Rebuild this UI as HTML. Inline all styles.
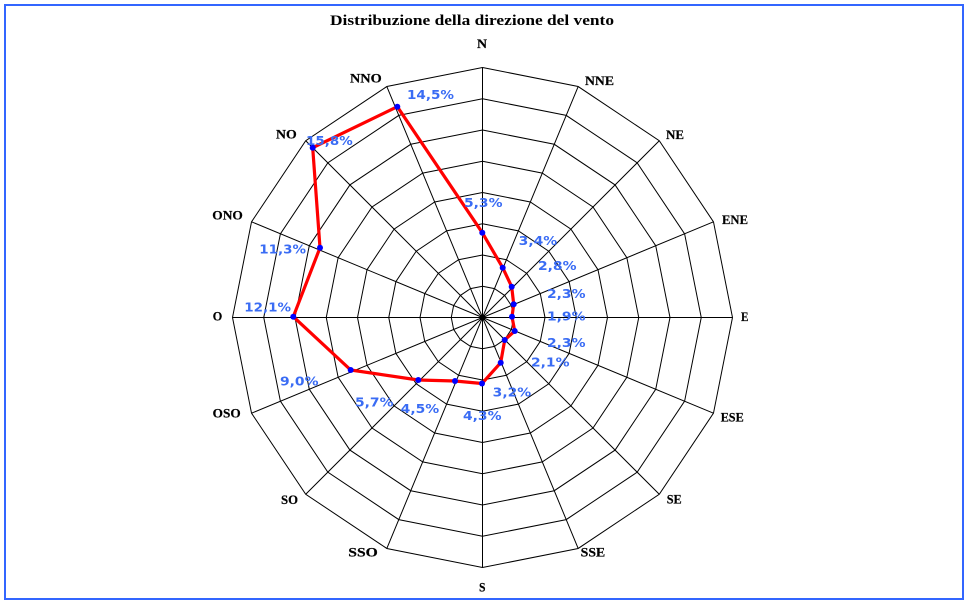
<!DOCTYPE html>
<html>
<head>
<meta charset="utf-8">
<style>
html,body{margin:0;padding:0;background:#fff;}
svg{display:block;}
.dir{font-family:"Liberation Serif","DejaVu Serif",serif;font-weight:bold;font-size:13px;fill:#000;stroke:#000;stroke-width:0.2px;}
.val{font-family:"DejaVu Sans","Liberation Sans",sans-serif;font-weight:bold;font-size:12px;fill:#3a6cf4;}
.title{font-family:"Liberation Serif","DejaVu Serif",serif;font-weight:bold;font-size:15px;fill:#000;}
</style>
</head>
<body>
<svg width="970" height="604" viewBox="0 0 970 604" xmlns="http://www.w3.org/2000/svg">
<rect x="0" y="0" width="970" height="604" fill="#fff"/>
<rect x="5" y="5" width="958" height="594" fill="none" stroke="#3366ff" stroke-width="2"/>

<text class="title" x="330" y="25" textLength="284" lengthAdjust="spacingAndGlyphs">Distribuzione della direzione del vento</text>

<g transform="translate(482.5,317.5)" fill="none" stroke="#000" stroke-width="1">
  <g id="rings">
    <polygon vector-effect="non-scaling-stroke" transform="scale(31.25)" points="0,-1 0.382683,-0.92388 0.707107,-0.707107 0.92388,-0.382683 1,0 0.92388,0.382683 0.707107,0.707107 0.382683,0.92388 0,1 -0.382683,0.92388 -0.707107,0.707107 -0.92388,0.382683 -1,0 -0.92388,-0.382683 -0.707107,-0.707107 -0.382683,-0.92388"/>
    <polygon vector-effect="non-scaling-stroke" transform="scale(62.5)" points="0,-1 0.382683,-0.92388 0.707107,-0.707107 0.92388,-0.382683 1,0 0.92388,0.382683 0.707107,0.707107 0.382683,0.92388 0,1 -0.382683,0.92388 -0.707107,0.707107 -0.92388,0.382683 -1,0 -0.92388,-0.382683 -0.707107,-0.707107 -0.382683,-0.92388"/>
    <polygon vector-effect="non-scaling-stroke" transform="scale(93.75)" points="0,-1 0.382683,-0.92388 0.707107,-0.707107 0.92388,-0.382683 1,0 0.92388,0.382683 0.707107,0.707107 0.382683,0.92388 0,1 -0.382683,0.92388 -0.707107,0.707107 -0.92388,0.382683 -1,0 -0.92388,-0.382683 -0.707107,-0.707107 -0.382683,-0.92388"/>
    <polygon vector-effect="non-scaling-stroke" transform="scale(125)" points="0,-1 0.382683,-0.92388 0.707107,-0.707107 0.92388,-0.382683 1,0 0.92388,0.382683 0.707107,0.707107 0.382683,0.92388 0,1 -0.382683,0.92388 -0.707107,0.707107 -0.92388,0.382683 -1,0 -0.92388,-0.382683 -0.707107,-0.707107 -0.382683,-0.92388"/>
    <polygon vector-effect="non-scaling-stroke" transform="scale(156.25)" points="0,-1 0.382683,-0.92388 0.707107,-0.707107 0.92388,-0.382683 1,0 0.92388,0.382683 0.707107,0.707107 0.382683,0.92388 0,1 -0.382683,0.92388 -0.707107,0.707107 -0.92388,0.382683 -1,0 -0.92388,-0.382683 -0.707107,-0.707107 -0.382683,-0.92388"/>
    <polygon vector-effect="non-scaling-stroke" transform="scale(187.5)" points="0,-1 0.382683,-0.92388 0.707107,-0.707107 0.92388,-0.382683 1,0 0.92388,0.382683 0.707107,0.707107 0.382683,0.92388 0,1 -0.382683,0.92388 -0.707107,0.707107 -0.92388,0.382683 -1,0 -0.92388,-0.382683 -0.707107,-0.707107 -0.382683,-0.92388"/>
    <polygon vector-effect="non-scaling-stroke" transform="scale(218.75)" points="0,-1 0.382683,-0.92388 0.707107,-0.707107 0.92388,-0.382683 1,0 0.92388,0.382683 0.707107,0.707107 0.382683,0.92388 0,1 -0.382683,0.92388 -0.707107,0.707107 -0.92388,0.382683 -1,0 -0.92388,-0.382683 -0.707107,-0.707107 -0.382683,-0.92388"/>
    <polygon vector-effect="non-scaling-stroke" transform="scale(250)" points="0,-1 0.382683,-0.92388 0.707107,-0.707107 0.92388,-0.382683 1,0 0.92388,0.382683 0.707107,0.707107 0.382683,0.92388 0,1 -0.382683,0.92388 -0.707107,0.707107 -0.92388,0.382683 -1,0 -0.92388,-0.382683 -0.707107,-0.707107 -0.382683,-0.92388"/>
  </g>
  <path d="M0,-250L0,250 M95.67,-230.97L-95.67,230.97 M176.78,-176.78L-176.78,176.78 M230.97,-95.67L-230.97,95.67 M-250,0L250,0 M230.97,95.67L-230.97,-95.67 M176.78,176.78L-176.78,-176.78 M95.67,230.97L-95.67,-230.97"/>
  <circle cx="0" cy="0" r="3" fill="#000" stroke="none"/>
</g>

<!-- direction labels -->
<text class="dir" x="477" y="48" textLength="10" lengthAdjust="spacingAndGlyphs">N</text>
<text class="dir" x="585" y="85" textLength="29" lengthAdjust="spacingAndGlyphs">NNE</text>
<text class="dir" x="666" y="139" textLength="18" lengthAdjust="spacingAndGlyphs">NE</text>
<text class="dir" x="722" y="224" textLength="26" lengthAdjust="spacingAndGlyphs">ENE</text>
<text class="dir" x="741" y="321" textLength="7.5" lengthAdjust="spacingAndGlyphs">E</text>
<text class="dir" x="720.7" y="421.7" textLength="23" lengthAdjust="spacingAndGlyphs">ESE</text>
<text class="dir" x="666.7" y="503.3" textLength="15" lengthAdjust="spacingAndGlyphs">SE</text>
<text class="dir" x="580.7" y="556.7" textLength="24.5" lengthAdjust="spacingAndGlyphs">SSE</text>
<text class="dir" x="479" y="591.7" textLength="6.5" lengthAdjust="spacingAndGlyphs">S</text>
<text class="dir" x="348.3" y="556.7" textLength="29.5" lengthAdjust="spacingAndGlyphs">SSO</text>
<text class="dir" x="281" y="504" textLength="17" lengthAdjust="spacingAndGlyphs">SO</text>
<text class="dir" x="212.7" y="417.3" textLength="28" lengthAdjust="spacingAndGlyphs">OSO</text>
<text class="dir" x="212.7" y="320.3" textLength="9.5" lengthAdjust="spacingAndGlyphs">O</text>
<text class="dir" x="212.3" y="219.3" textLength="30.5" lengthAdjust="spacingAndGlyphs">ONO</text>
<text class="dir" x="276" y="138.7" textLength="20.7" lengthAdjust="spacingAndGlyphs">NO</text>
<text class="dir" x="350" y="82.7" textLength="31.7" lengthAdjust="spacingAndGlyphs">NNO</text>

<!-- data series -->
<polygon fill="none" stroke="#ff0000" stroke-width="3.2" stroke-linejoin="round"
 points="482.3,232.7 502.7,267.7 511.7,286.7 513.7,304.3 512,316.7 514.7,331 504.7,340 500.7,362.7 482,383.5 455,381 418.3,380 350.7,370 293.3,316.7 320,247.7 312.7,147.7 397.3,106.7"/>
<g fill="#0000ff">
  <circle cx="482.3" cy="232.7" r="3"/>
  <circle cx="502.7" cy="267.7" r="3"/>
  <circle cx="511.7" cy="286.7" r="3"/>
  <circle cx="513.7" cy="304.3" r="3"/>
  <circle cx="512" cy="316.7" r="3"/>
  <circle cx="514.7" cy="331" r="3"/>
  <circle cx="504.7" cy="340" r="3"/>
  <circle cx="500.7" cy="362.7" r="3"/>
  <circle cx="482" cy="383.5" r="3"/>
  <circle cx="455" cy="381" r="3"/>
  <circle cx="418.3" cy="380" r="3"/>
  <circle cx="350.7" cy="370" r="3"/>
  <circle cx="293.3" cy="316.7" r="3"/>
  <circle cx="320" cy="247.7" r="3"/>
  <circle cx="312.7" cy="147.7" r="3"/>
  <circle cx="397.3" cy="106.7" r="3"/>
</g>

<!-- value labels -->
<text class="val" x="464" y="207" textLength="38.5" lengthAdjust="spacingAndGlyphs">5,3%</text>
<text class="val" x="518.7" y="245" textLength="38.5" lengthAdjust="spacingAndGlyphs">3,4%</text>
<text class="val" x="538" y="270" textLength="38.5" lengthAdjust="spacingAndGlyphs">2,8%</text>
<text class="val" x="547" y="298" textLength="38.5" lengthAdjust="spacingAndGlyphs">2,3%</text>
<text class="val" x="547" y="320.7" textLength="38.5" lengthAdjust="spacingAndGlyphs">1,9%</text>
<text class="val" x="547" y="347" textLength="38.5" lengthAdjust="spacingAndGlyphs">2,3%</text>
<text class="val" x="531" y="366.7" textLength="38.5" lengthAdjust="spacingAndGlyphs">2,1%</text>
<text class="val" x="492.7" y="396.7" textLength="38.5" lengthAdjust="spacingAndGlyphs">3,2%</text>
<text class="val" x="463" y="420" textLength="38.5" lengthAdjust="spacingAndGlyphs">4,3%</text>
<text class="val" x="400.7" y="413" textLength="38.5" lengthAdjust="spacingAndGlyphs">4,5%</text>
<text class="val" x="355" y="406.7" textLength="38.5" lengthAdjust="spacingAndGlyphs">5,7%</text>
<text class="val" x="280" y="385.7" textLength="38.5" lengthAdjust="spacingAndGlyphs">9,0%</text>
<text class="val" x="244.3" y="311.7" textLength="46.7" lengthAdjust="spacingAndGlyphs">12,1%</text>
<text class="val" x="259.3" y="253.3" textLength="46.7" lengthAdjust="spacingAndGlyphs">11,3%</text>
<text class="val" x="306" y="145" textLength="46.7" lengthAdjust="spacingAndGlyphs">15,8%</text>
<text class="val" x="407" y="99" textLength="47" lengthAdjust="spacingAndGlyphs">14,5%</text>
</svg>
</body>
</html>
